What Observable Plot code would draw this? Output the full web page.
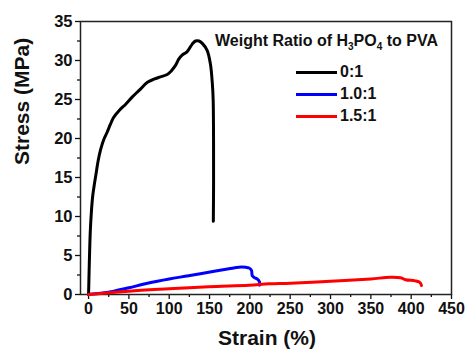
<!DOCTYPE html>
<html>
<head>
<meta charset="utf-8">
<script src="https://cdn.jsdelivr.net/npm/d3@7"></script>
<script src="https://cdn.jsdelivr.net/npm/@observablehq/plot@0.6"></script>
<style>
  html, body { margin: 0; padding: 0; background: #fff; }
  #wrap { position: relative; width: 467px; height: 353px; font-family: "Liberation Sans", Arial, sans-serif; font-weight: bold; color: #111; }
  #legend { position: absolute; left: 215px; top: 33px; font-size: 16px; line-height: 1; }
  #legend .title { white-space: nowrap; }
  #legend sub { font-size: 10px; vertical-align: -4px; line-height: 0; }
  #legend .row { position: absolute; left: 81px; height: 20px; display: flex; align-items: center; white-space: nowrap; }
  #legend .sw { display: inline-block; width: 41px; height: 0; border-top: 3px solid; margin-right: 3px; }
</style>
</head>
<body>
<div id="wrap"></div>
<script>
// ---- data ----
const seriesNames = ["0:1", "1.0:1", "1.5:1"];
const seriesColors = ["#000000", "#0000ff", "#ff0000"];

const strain01 = [0, 0.9, 2.1, 3.5, 5, 7, 9, 12, 15, 19, 23, 27, 31, 38, 46, 54, 63, 73, 81, 89, 97.5, 102, 108, 112, 116, 122, 128.5, 132.6, 137, 141, 147, 151, 153.5, 154.5, 155, 154.7];
const stress01 = [0, 3.9, 8.0, 10.6, 12.5, 14.0, 15.3, 17.2, 18.6, 19.9, 20.8, 21.8, 22.7, 23.6, 24.4, 25.3, 26.2, 27.2, 27.6, 27.9, 28.2, 28.6, 29.4, 30.2, 30.7, 31.1, 32.1, 32.5, 32.5, 32.2, 31.3, 29.6, 27, 24.9, 14.6, 9.4];

const strain10 = [0, 15, 31.4, 50, 73, 100, 124, 149, 174, 186.5, 195, 199, 202, 203, 206, 209, 212, 212];
const stress10 = [0, 0.15, 0.43, 0.86, 1.45, 2.0, 2.4, 2.86, 3.3, 3.5, 3.48, 3.4, 3.1, 2.4, 2.15, 2.0, 1.6, 1.2];

const strain15 = [0, 50, 100, 149, 199, 224, 250.6, 300, 350, 374, 387, 393, 405, 410, 412, 412.7];
const stress15 = [0, 0.43, 0.73, 1.0, 1.2, 1.37, 1.45, 1.7, 2.0, 2.2, 2.14, 1.9, 1.75, 1.6, 1.37, 1.15];

const xTicks = [0, 50, 100, 150, 200, 250, 300, 350, 400, 450];
const xMinor = [25, 75, 125, 175, 225, 275, 325, 375, 425];
const yTicks = [0, 5, 10, 15, 20, 25, 30, 35];
const yMinor = [2.5, 7.5, 12.5, 17.5, 22.5, 27.5, 32.5];

const xLabel = "Strain (%)";
const yLabel = "Stress (MPa)";

// ---- build table ----
const rows = [];
[[strain01, stress01], [strain10, stress10], [strain15, stress15]].forEach(([xs, ys], i) => {
  xs.forEach((x, j) => rows.push({series: seriesNames[i], strain: x, stress: ys[j]}));
});

const chart = Plot.plot({
  width: 467,
  height: 353,
  marginLeft: 80,
  marginTop: 21,
  marginRight: 16,
  marginBottom: 59,
  style: {fontFamily: "'Liberation Sans', Arial, sans-serif", fontWeight: "bold", fontSize: "16px", color: "#111", background: "#fff"},
  x: {domain: [-10, 450]},
  y: {domain: [0, 35]},
  color: {domain: seriesNames, range: seriesColors},
  marks: [
    Plot.axisX({ticks: xMinor, tickSize: 3, tickFormat: () => "", label: null, strokeWidth: 1.3}),
    Plot.axisY({ticks: yMinor, tickSize: 3, tickFormat: () => "", label: null, strokeWidth: 1.3}),
    Plot.axisX({ticks: xTicks, tickSize: 5, tickPadding: 3, tickFormat: d3.format("d"), label: null, strokeWidth: 1.3, fontSize: 16}),
    Plot.axisY({ticks: yTicks, tickSize: 5, tickPadding: 3, tickFormat: d3.format("d"), label: null, strokeWidth: 1.3, fontSize: 16.5}),
    Plot.frame({stroke: "#222", strokeWidth: 1.5}),
    Plot.line(rows, {x: "strain", y: "stress", z: "series", stroke: "series", strokeWidth: 3, curve: "catmull-rom", strokeLinejoin: "round", strokeLinecap: "round"}),
    Plot.text([yLabel], {frameAnchor: "left", dx: -58, dy: 7, rotate: -90, fontSize: 21, fontWeight: "bold", fill: "#111"}),
    Plot.text([xLabel], {frameAnchor: "bottom", dx: 1, dy: 50, fontSize: 21, fontWeight: "bold", fill: "#111"})
  ]
});

const wrap = document.getElementById("wrap");
wrap.appendChild(chart);

// ---- legend overlay ----
const legend = document.createElement("div");
legend.id = "legend";
legend.innerHTML = '<div class="title">Weight Ratio of H<sub>3</sub>PO<sub>4</sub> to PVA</div>';
seriesNames.forEach((name, i) => {
  const row = document.createElement("div");
  row.className = "row";
  row.style.top = (29 + i * 22) + "px";
  row.innerHTML = `<span class="sw" style="border-color:${seriesColors[i]}"></span><span>${name}</span>`;
  legend.appendChild(row);
});
wrap.appendChild(legend);
</script>
</body>
</html>
